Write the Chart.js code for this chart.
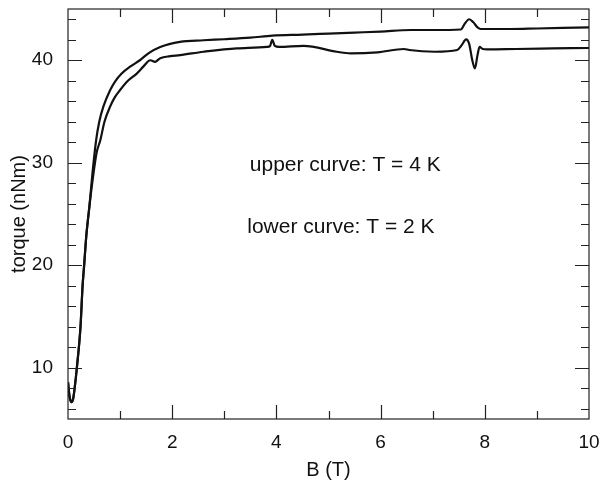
<!DOCTYPE html>
<html>
<head>
<meta charset="utf-8">
<script src="https://cdn.jsdelivr.net/npm/chart.js@4.4.0/dist/chart.umd.min.js"></script>
<style>
  html, body { margin: 0; padding: 0; background: #fff; }
  canvas { display: block; }
</style>
</head>
<body>
<canvas id="c" width="600" height="484"></canvas>
<script>
// ---- data ----
const upperB = [0, 0.03, 0.07, 0.1, 0.13, 0.17, 0.24, 0.28, 0.31, 0.35, 0.41, 0.47, 0.54, 0.6, 0.68, 0.81, 0.9, 1.03, 1.2, 1.38, 1.55, 1.77, 2.15, 2.6, 3.0, 3.5, 3.92, 4.5, 5.0, 5.5, 6.0, 6.58, 7.0, 7.54, 7.62, 7.7, 7.78, 7.86, 7.92, 8.5, 9.0, 9.5, 10.0];
const upperT = [8.6, 7.2, 6.65, 7.0, 8.1, 10.0, 14.0, 18.0, 20.0, 22.8, 25.7, 29.0, 32.2, 34.0, 35.5, 37.1, 37.9, 38.7, 39.4, 40.0, 40.7, 41.3, 41.8, 41.95, 42.05, 42.2, 42.4, 42.5, 42.6, 42.7, 42.8, 42.95, 42.95, 43.0, 43.6, 44.0, 43.7, 43.2, 43.05, 43.05, 43.1, 43.15, 43.2];

const lowerB = [0, 0.03, 0.07, 0.1, 0.13, 0.17, 0.24, 0.28, 0.31, 0.35, 0.41, 0.49, 0.55, 0.62, 0.7, 0.81, 0.9, 1.0, 1.15, 1.32, 1.45, 1.58, 1.67, 1.77, 1.96, 2.15, 2.6, 3.24, 3.82, 3.88, 3.92, 3.97, 4.05, 4.52, 5.16, 5.42, 5.94, 6.45, 6.55, 7.04, 7.47, 7.56, 7.64, 7.7, 7.76, 7.81, 7.86, 7.9, 7.96, 8.05, 8.6, 9.3, 10.0];
const lowerT = [8.6, 7.2, 6.65, 7.0, 8.1, 10.0, 14.0, 18.0, 20.0, 22.8, 25.7, 29.0, 31.0, 32.2, 34.0, 35.5, 36.4, 37.1, 38.0, 38.7, 39.4, 40.0, 39.85, 40.2, 40.4, 40.5, 40.83, 41.16, 41.3, 41.4, 42.0, 41.4, 41.3, 41.4, 40.83, 40.67, 40.77, 41.1, 41.0, 40.83, 41.0, 41.5, 42.04, 41.6, 40.0, 39.2, 40.5, 41.3, 41.1, 41.06, 41.1, 41.15, 41.2];

const annotationTexts = ["upper curve: T = 4 K", "lower curve: T = 2 K"];
const xTitle = "B (T)";
const yTitle = "torque (nNm)";

const FONT = "'Liberation Sans', Arial, Helvetica, sans-serif";

function toPoints(xs, ys) { return xs.map((x, i) => ({x: x, y: ys[i]})); }

// frame + inward ticks
const frameTicks = {
  id: 'frameTicks',
  afterDraw(chart) {
    const ctx = chart.ctx;
    const a = chart.chartArea;
    const xs = chart.scales.x, ys = chart.scales.y;
    ctx.save();
    ctx.strokeStyle = '#222';
    ctx.lineWidth = 1.2;
    ctx.strokeRect(a.left, a.top, a.right - a.left, a.bottom - a.top);
    ctx.beginPath();
    xs.ticks.forEach(t => {
      const v = t.value;
      if (v <= xs.min || v >= xs.max) return;
      const px = Math.round(xs.getPixelForValue(v)) + 0.5;
      const len = (v % 2 === 0) ? 14 : 8;
      ctx.moveTo(px, a.bottom); ctx.lineTo(px, a.bottom - len);
      ctx.moveTo(px, a.top); ctx.lineTo(px, a.top + len);
    });
    ys.ticks.forEach(t => {
      const v = t.value;
      if (v <= ys.min || v >= ys.max) return;
      const py = Math.round(ys.getPixelForValue(v)) + 0.5;
      const len = (v % 10 === 0) ? 14 : 8;
      ctx.moveTo(a.left, py); ctx.lineTo(a.left + len, py);
      ctx.moveTo(a.right, py); ctx.lineTo(a.right - len, py);
    });
    ctx.stroke();
    ctx.restore();
  }
};

const textNotes = {
  id: 'textNotes',
  afterDraw(chart, args, opts) {
    const ctx = chart.ctx;
    const xs = chart.scales.x, ys = chart.scales.y;
    ctx.save();
    ctx.fillStyle = '#111';
    ctx.font = '21px ' + FONT;
    ctx.textAlign = 'left';
    ctx.textBaseline = 'middle';
    opts.items.forEach(it => {
      ctx.fillText(it.text, xs.getPixelForValue(it.x), ys.getPixelForValue(it.y));
    });
    ctx.restore();
  }
};

new Chart(document.getElementById('c'), {
  type: 'line',
  data: {
    datasets: [
      { label: 'T = 4 K', data: toPoints(upperB, upperT), borderColor: '#111', borderWidth: 2.2,
        pointRadius: 0, cubicInterpolationMode: 'monotone', fill: false },
      { label: 'T = 2 K', data: toPoints(lowerB, lowerT), borderColor: '#111', borderWidth: 2.2,
        pointRadius: 0, cubicInterpolationMode: 'monotone', fill: false }
    ]
  },
  options: {
    responsive: false,
    animation: false,
    devicePixelRatio: 1,
    layout: { padding: 0 },
    plugins: {
      legend: { display: false },
      tooltip: { enabled: false },
      textNotes: {
        items: [
          { text: annotationTexts[0], x: 3.49, y: 29.8 },
          { text: annotationTexts[1], x: 3.44, y: 23.75 }
        ]
      }
    },
    scales: {
      x: {
        type: 'linear', min: 0, max: 10,
        afterFit(s) { s.height = 65; s.paddingRight = 11; s.paddingLeft = 0; },
        grid: { display: false, drawTicks: false },
        border: { display: false },
        ticks: {
          stepSize: 1, padding: 12, color: '#111', maxRotation: 0, autoSkip: false,
          font: { family: FONT, size: 19 },
          callback: v => (v % 2 === 0 ? String(v) : '')
        },
        title: { display: true, text: xTitle, color: '#111',
          font: { family: FONT, size: 20 }, padding: { top: 0, bottom: 2 } }
      },
      y: {
        type: 'linear', min: 5, max: 45,
        afterFit(s) { s.width = 68; s.paddingTop = 9; s.paddingBottom = 0; },
        afterBuildTicks(s) {
          const t = [];
          for (let v = 6; v <= 44; v += 2) t.push({ value: v });
          s.ticks = t;
        },
        grid: { display: false, drawTicks: false },
        border: { display: false },
        ticks: {
          padding: 15, color: '#111', autoSkip: false,
          font: { family: FONT, size: 19 },
          callback: v => (v % 10 === 0 ? String(v) : '')
        },
        title: { display: true, text: yTitle, color: '#111',
          font: { family: FONT, size: 20 }, padding: { top: 7, bottom: 0 } }
      }
    }
  },
  plugins: [frameTicks, textNotes]
});
</script>
</body>
</html>
